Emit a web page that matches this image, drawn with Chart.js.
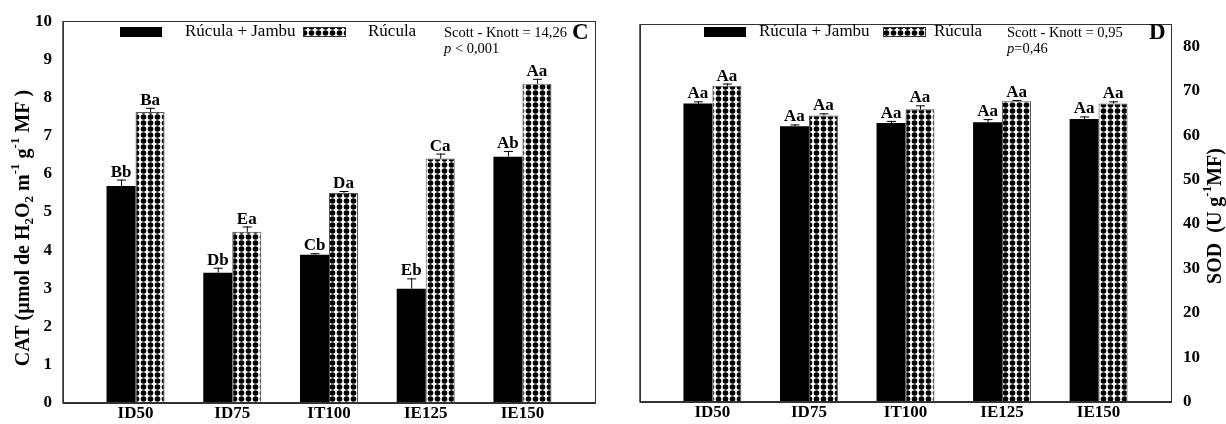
<!DOCTYPE html>
<html>
<head>
<meta charset="utf-8">
<script src="https://cdn.jsdelivr.net/npm/chart.js@4"></script>
<style>
  body { margin: 0; background: #fff; }
  #wrapL { position: absolute; left: 0; top: 0; width: 610px; height: 424px; }
  #wrapR { position: absolute; left: 610px; top: 0; width: 616px; height: 424px; }
</style>
</head>
<body>
<div id="wrapL"><canvas id="catChart"></canvas></div>
<div id="wrapR"><canvas id="sodChart"></canvas></div>
<script>
// Data
const categories = ['ID50', 'ID75', 'IT100', 'IE125', 'IE150'];

const catJambu = [5.68, 3.41, 3.88, 2.99, 6.45];
const catJambuErr = [0.17, 0.13, 0.04, 0.27, 0.15];
const catJambuLetters = ['Bb', 'Db', 'Cb', 'Eb', 'Ab'];
const catRucula = [7.62, 4.48, 5.5, 6.4, 8.36];
const catRuculaErr = [0.11, 0.14, 0.05, 0.13, 0.13];
const catRuculaLetters = ['Ba', 'Ea', 'Da', 'Ca', 'Aa'];

const sodJambu = [67.1, 62.0, 62.7, 62.9, 63.6];
const sodJambuErr = [0.5, 0.4, 0.5, 0.7, 0.6];
const sodJambuLetters = ['Aa', 'Aa', 'Aa', 'Aa', 'Aa'];
const sodRucula = [71.1, 64.4, 65.8, 67.6, 67.1];
const sodRuculaErr = [0.5, 0.5, 0.9, 0.3, 0.5];
const sodRuculaLetters = ['Aa', 'Aa', 'Aa', 'Aa', 'Aa'];

const SERIF = '"Liberation Serif", "Times New Roman", serif';

// dotted fill like the original
function makePattern() {
    const c = document.createElement('canvas');
    c.width = 7; c.height = 6;
    const g = c.getContext('2d');
    g.fillStyle = '#fff';
    g.fillRect(0, 0, 7, 6);
    g.fillStyle = '#000';
    g.beginPath();
    g.arc(3.5, 3, 2.8, 0, Math.PI * 2);
    g.fill();
    return document.createElement('canvas').getContext('2d').createPattern(c, 'repeat');
}
const dots = makePattern();

function drawRich(ctx, parts, size) {
    // parts: [text, 0 normal | -1 sub | 1 sup]
    let total = 0;
    parts.forEach(p => {
        ctx.font = 'bold ' + (p[1] ? size * 0.65 : size) + 'px ' + SERIF;
        total += ctx.measureText(p[0]).width;
    });
    let x = -total / 2;
    parts.forEach(p => {
        const s = p[1] ? size * 0.65 : size;
        ctx.font = 'bold ' + s + 'px ' + SERIF;
        const dy = p[1] === -1 ? size * 0.3 : (p[1] === 1 ? -size * 0.4 : 0);
        ctx.fillText(p[0], x, dy);
        x += ctx.measureText(p[0]).width;
    });
}

const errorBars = {
    id: 'errorBars',
    afterDatasetsDraw(chart, args, opts) {
        const ctx = chart.ctx;
        const y = chart.scales.y;
        ctx.save();
        chart.data.datasets.forEach((ds, di) => {
            const meta = chart.getDatasetMeta(di);
            meta.data.forEach((bar, i) => {
                const top = y.getPixelForValue(ds.data[i].y + ds.err[i]);
                ctx.strokeStyle = '#000';
                ctx.lineWidth = 1;
                ctx.beginPath();
                ctx.moveTo(bar.x + 0.5, bar.y);
                ctx.lineTo(bar.x + 0.5, top);
                ctx.moveTo(bar.x - 4, top + 0.5);
                ctx.lineTo(bar.x + 5, top + 0.5);
                ctx.stroke();
                ctx.fillStyle = '#000';
                ctx.font = 'bold 17px ' + SERIF;
                ctx.textAlign = 'center';
                ctx.textBaseline = 'alphabetic';
                ctx.fillText(ds.letters[i], bar.x, top - 3);
            });
        });
        ctx.restore();
    }
};

const frame = {
    id: 'frame',
    afterDraw(chart, args, opts) {
        const ctx = chart.ctx;
        const a = chart.chartArea;
        ctx.save();
        ctx.strokeStyle = '#333';
        ctx.lineWidth = 1;
        ctx.strokeRect(Math.round(a.left) + 0.5, Math.round(a.top) + 0.5,
            Math.round(a.right - a.left), Math.round(a.bottom - a.top));
        ctx.lineWidth = 1.5;
        ctx.beginPath();
        ctx.moveTo(a.left, a.top);
        ctx.lineTo(a.left, a.bottom);
        ctx.lineTo(a.right, a.bottom);
        ctx.stroke();

        const t = opts;
        ctx.fillStyle = '#000';
        ctx.textBaseline = 'middle';
        ctx.textAlign = 'left';
        // legend
        ctx.fillRect(t.sw1, 27, 42, 10);
        ctx.font = '17px ' + SERIF;
        ctx.fillText('Rúcula + Jambu', t.tx1, 32);
        ctx.fillStyle = dots;
        ctx.fillRect(t.sw2, 27, 42, 10);
        ctx.strokeStyle = '#333';
        ctx.lineWidth = 1;
        ctx.strokeRect(t.sw2 + 0.5, 27.5, 42, 9);
        ctx.fillStyle = '#000';
        ctx.fillText('Rúcula', t.tx2, 32);
        ctx.font = '14.5px ' + SERIF;
        ctx.fillText(t.stat, t.tx3, 33);
        ctx.font = 'italic 14.5px ' + SERIF;
        ctx.fillText('p', t.tx3, 49);
        const pw = ctx.measureText('p').width;
        ctx.font = '14.5px ' + SERIF;
        ctx.fillText(t.pval, t.tx3 + pw, 49);
        ctx.font = 'bold 23px ' + SERIF;
        ctx.fillText(t.letter, t.lx, 33);

        // axis title
        ctx.save();
        ctx.translate(t.titleX, t.titleY);
        ctx.rotate(-Math.PI / 2);
        ctx.textBaseline = 'middle';
        drawRich(ctx, t.title, 20);
        ctx.restore();
        ctx.restore();
    }
};

function xAxis(h) {
    return {
        type: 'linear',
        min: -0.75,
        max: 4.75,
        offset: false,
        afterBuildTicks: s => { s.ticks = categories.map((c, i) => ({ value: i })); },
        afterFit: s => { s.height = h; },
        grid: { display: false, drawTicks: false },
        border: { display: false },
        ticks: {
            callback: v => categories[v],
            color: '#000',
            padding: 1,
            maxRotation: 0,
            autoSkip: false,
            font: { family: SERIF, size: 17, weight: 'bold' }
        }
    };
}

function bars(jambu, jErr, jLet, rucula, rErr, rLet) {
    return [
        {
            label: 'Rúcula + Jambu',
            data: jambu.map((v, i) => ({ x: i, y: v })),
            err: jErr, letters: jLet,
            backgroundColor: '#000',
            borderWidth: 0,
            categoryPercentage: 0.6,
            barPercentage: 1.0
        },
        {
            label: 'Rúcula',
            data: rucula.map((v, i) => ({ x: i, y: v })),
            err: rErr, letters: rLet,
            backgroundColor: dots,
            borderColor: '#555',
            borderWidth: 1,
            categoryPercentage: 0.6,
            barPercentage: 1.0
        }
    ];
}

new Chart(document.getElementById('catChart'), {
    type: 'bar',
    data: { datasets: bars(catJambu, catJambuErr, catJambuLetters, catRucula, catRuculaErr, catRuculaLetters) },
    options: {
        responsive: true,
        maintainAspectRatio: false,
        animation: false,
        layout: { padding: { left: 0, right: 15, top: 20, bottom: 0 } },
        plugins: {
            legend: { display: false },
            tooltip: { enabled: false },
            frame: {
                sw1: 120, tx1: 185, sw2: 303, tx2: 368, tx3: 444, lx: 572,
                stat: 'Scott - Knott = 14,26', pval: ' < 0,001', letter: 'C',
                titleX: 24, titleY: 228,
                title: [['CAT (µmol de H', 0], ['2', -1], ['O', 0], ['2', -1], [' m', 0], ['-1', 1],
                        [' g', 0], ['-1', 1], [' MF )', 0]]
            }
        },
        scales: {
            x: xAxis(20),
            y: {
                min: 0,
                max: 10,
                afterFit: s => { s.width = 63; },
                grid: { display: false, drawTicks: false },
                border: { display: false },
                ticks: {
                    stepSize: 1,
                    color: '#000',
                    padding: 11,
                    font: { family: SERIF, size: 17, weight: 'bold' }
                }
            }
        }
    },
    plugins: [errorBars, frame]
});

new Chart(document.getElementById('sodChart'), {
    type: 'bar',
    data: { datasets: bars(sodJambu, sodJambuErr, sodJambuLetters, sodRucula, sodRuculaErr, sodRuculaLetters) },
    options: {
        responsive: true,
        maintainAspectRatio: false,
        animation: false,
        layout: { padding: { left: 30, right: 0, top: 24, bottom: 0 } },
        plugins: {
            legend: { display: false },
            tooltip: { enabled: false },
            frame: {
                sw1: 94, tx1: 149, sw2: 273, tx2: 324, tx3: 397, lx: 539,
                stat: 'Scott - Knott = 0,95', pval: '=0,46', letter: 'D',
                titleX: 606, titleY: 216,
                title: [['SOD  (U g', 0], ['-1', 1], ['MF)', 0]]
            }
        },
        scales: {
            x: xAxis(18),
            y: {
                position: 'right',
                min: 0,
                max: 85,
                afterBuildTicks: s => { s.ticks = s.ticks.filter(t => t.value % 10 === 0); },
                afterFit: s => { s.width = 55; },
                grid: { display: false, drawTicks: false },
                border: { display: false },
                ticks: {
                    stepSize: 10,
                    color: '#000',
                    padding: 12,
                    font: { family: SERIF, size: 17, weight: 'bold' }
                }
            }
        }
    },
    plugins: [errorBars, frame]
});
</script>
</body>
</html>
